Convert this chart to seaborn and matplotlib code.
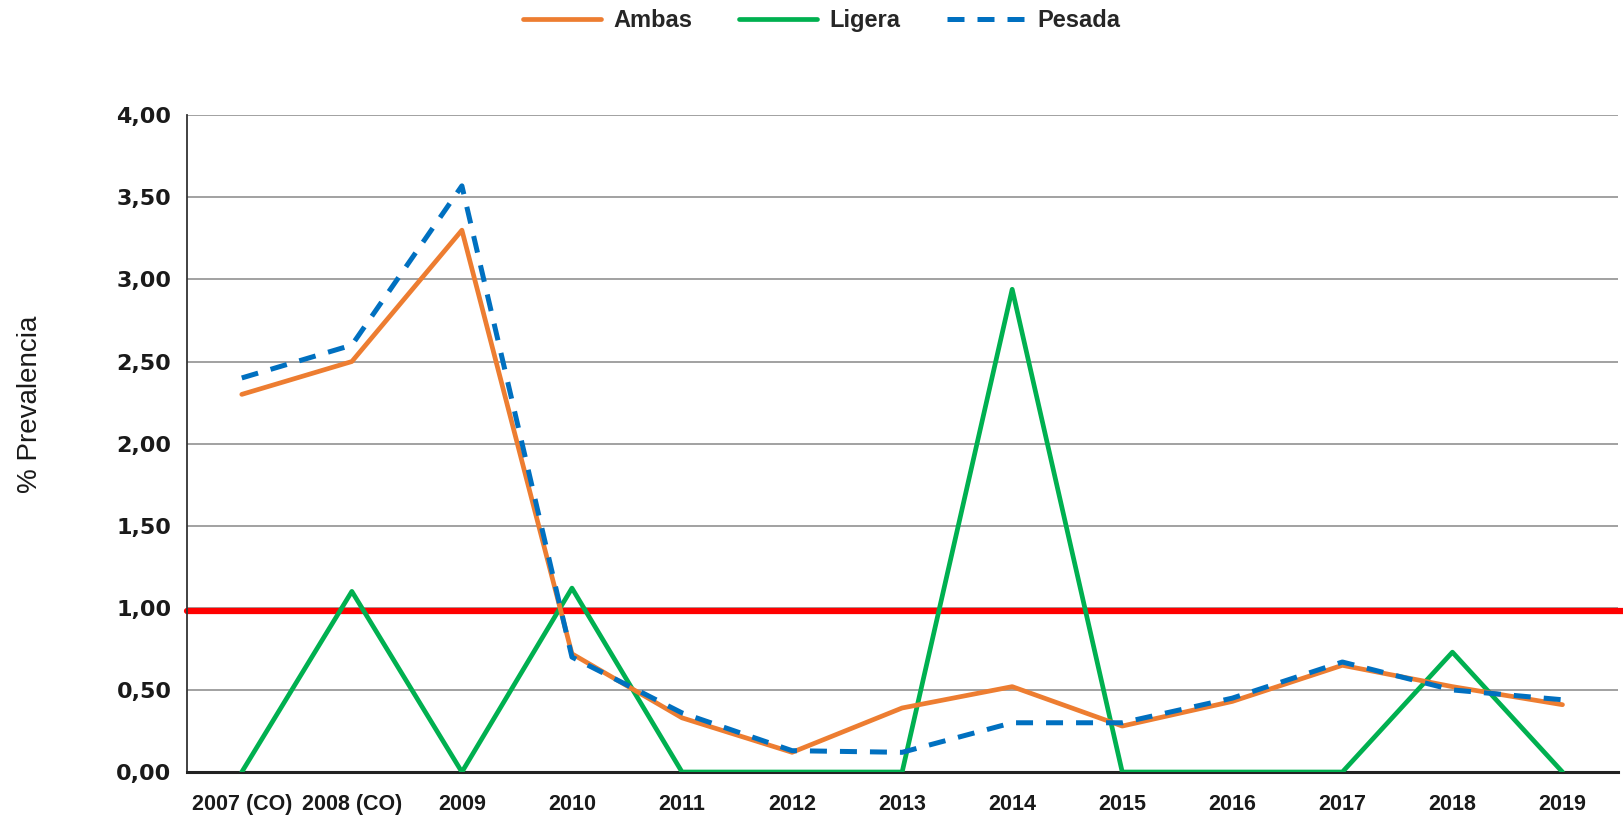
import numpy as np
import pandas as pd
import seaborn as sns
import matplotlib
matplotlib.use("Agg")
import matplotlib.pyplot as plt

# Data
years = ["2007 (CO)", "2008 (CO)", "2009", "2010", "2011", "2012", "2013",
         "2014", "2015", "2016", "2017", "2018", "2019"]
ambas = [2.30, 2.50, 3.30, 0.72, 0.33, 0.12, 0.39, 0.52, 0.28, 0.43, 0.65, 0.52, 0.41]
ligera = [0.00, 1.10, 0.00, 1.12, 0.00, 0.00, 0.00, 2.94, 0.00, 0.00, 0.00, 0.73, 0.00]
pesada = [2.40, 2.60, 3.57, 0.70, 0.36, 0.13, 0.12, 0.30, 0.30, 0.45, 0.67, 0.50, 0.44]
umbral = 0.98
y_ticks = [0.0, 0.5, 1.0, 1.5, 2.0, 2.5, 3.0, 3.5, 4.0]

sns.set_theme(style="white")
plt.rcParams["font.family"] = ["Liberation Sans", "DejaVu Sans"]

fig = plt.figure(figsize=(16.24, 8.22), dpi=100)
ax = fig.add_axes([0.115, 0.0608, 0.881, 0.799])

x = np.arange(len(years))
# Horizontal gridlines
for t in y_ticks[1:]:
    ax.axhline(t, color="#9a9a9a", lw=1.3, zorder=1)
# Threshold line
ax.axhline(umbral, color="#ff0000", lw=4.5, zorder=2, xmin=0, xmax=1.005, clip_on=False)

sns.lineplot(x=x, y=ambas, ax=ax, color="#ED7D31", lw=3.4, label="Ambas", zorder=4)
sns.lineplot(x=x, y=ligera, ax=ax, color="#00B050", lw=3.4, label="Ligera", zorder=3)
sns.lineplot(x=x, y=pesada, ax=ax, color="#0070C0", lw=3.6, label="Pesada", zorder=5,
             linestyle=(0, (3.4, 2.6)))

ax.set_xlim(-0.5, len(years) - 0.5)
ax.set_ylim(0, 4)
ax.set_yticks(y_ticks)
ax.set_yticklabels(["{:.2f}".format(v).replace(".", ",") for v in y_ticks],
                   fontsize=16, fontweight="bold", family=["DejaVu Sans"])
ax.set_xticks(x)
ax.set_xticklabels(years, fontsize=15.5, fontweight="bold")
ax.tick_params(axis="y", length=5, width=1.2, color="black", direction="out", pad=6, colors="#1a1a1a")
ax.tick_params(axis="x", length=0, pad=16, colors="#1a1a1a")
ax.grid(False)

for side in ["top", "right"]:
    ax.spines[side].set_visible(False)
ax.spines["left"].set_color("#333333")
ax.spines["left"].set_linewidth(1.3)
ax.spines["bottom"].set_color("#222222")
ax.spines["bottom"].set_linewidth(2.2)

ax.legend_.remove()
handles, labels = ax.get_legend_handles_labels()
fig.legend(handles, labels, loc="upper center", bbox_to_anchor=(0.506, 1.015), ncol=3,
           frameon=False, handlelength=3.3, columnspacing=2.0, handletextpad=0.5,
           prop={"weight": "bold", "size": 17})

fig.text(0.0185, 0.508, "% Prevalencia", rotation=90, ha="center", va="center",
         fontsize=20, color="#1a1a1a")

fig.savefig("out.png", dpi=100)
